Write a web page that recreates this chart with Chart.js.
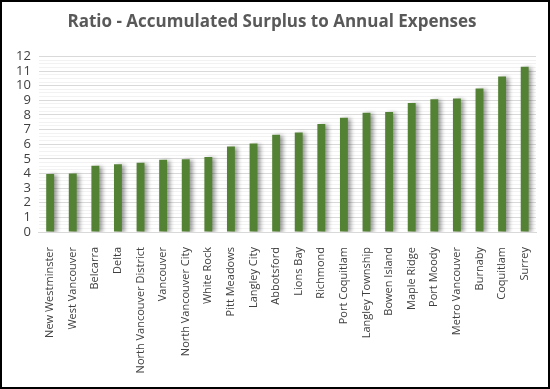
<!DOCTYPE html>
<html lang="en">
<head>
    <meta charset="UTF-8">
    <title>Ratio - Accumulated Surplus to Annual Expenses</title>
    <style>
        html, body { margin: 0; padding: 0; background: #fff; }
        .chart-box {
            width: 550px;
            height: 389px;
            box-sizing: border-box;
            border: 2px solid #000;
            position: relative;
        }
        .chart-box canvas { display: block; }
    </style>
</head>
<body>
    <div class="chart-box">
        <canvas id="ratioChart"></canvas>
    </div>
    <script src="https://cdn.jsdelivr.net/npm/chart.js"></script>
    <script>
        // Du lieu doc tu hinh
        const municipalities = [
            "New Westminster", "West Vancouver", "Belcarra", "Delta",
            "North Vancouver District", "Vancouver", "North Vancouver City",
            "White Rock", "Pitt Meadows", "Langley City", "Abbotsford",
            "Lions Bay", "Richmond", "Port Coquitlam", "Langley Township",
            "Bowen Island", "Maple Ridge", "Port Moody", "Metro Vancouver",
            "Burnaby", "Coquitlam", "Surrey"
        ];
        const ratios = [
            3.97, 4.0, 4.52, 4.63, 4.73, 4.93, 4.98, 5.12, 5.85, 6.05, 6.65,
            6.8, 7.38, 7.8, 8.15, 8.2, 8.82, 9.07, 9.12, 9.8, 10.62, 11.3
        ];
        const yTicks = [0, 1, 2, 3, 4, 5, 6, 7, 8, 9, 10, 11, 12];

        const textColor = "#595959";
        const fontFamily = "'Open Sans', sans-serif";

        // bong do ben phai cot
        const barShadow = {
            id: "barShadow",
            beforeDatasetDraw(chart) {
                const ctx = chart.ctx;
                ctx.save();
                ctx.shadowColor = "rgba(0, 0, 0, 0.4)";
                ctx.shadowBlur = 4;
                ctx.shadowOffsetX = 3;
                ctx.shadowOffsetY = 1;
            },
            afterDatasetDraw(chart) {
                chart.ctx.restore();
            }
        };

        function isWhole(v) {
            return Math.abs(v - Math.round(v)) < 1e-6;
        }

        const ctx = document.getElementById("ratioChart").getContext("2d");
        new Chart(ctx, {
            type: "bar",
            data: {
                labels: municipalities,
                datasets: [{
                    label: "Ratio",
                    data: ratios,
                    backgroundColor: "#548235",
                    barPercentage: 0.7,
                    categoryPercentage: 0.5
                }]
            },
            options: {
                responsive: true,
                maintainAspectRatio: false,
                animation: false,
                layout: { padding: { left: 6, right: 12, top: 6, bottom: 6 } },
                plugins: {
                    legend: { display: false },
                    tooltip: { enabled: false },
                    title: {
                        display: true,
                        text: "Ratio - Accumulated Surplus to Annual Expenses",
                        color: textColor,
                        font: { family: fontFamily, size: 17, weight: "bold" },
                        padding: { top: 4, bottom: 24 }
                    }
                },
                scales: {
                    x: {
                        grid: { display: false },
                        border: { color: "#d9d9d9" },
                        afterFit: (scale) => { scale.height = 149; },
                        ticks: {
                            color: "#404040",
                            padding: 7,
                            font: { family: fontFamily, size: 11 },
                            maxRotation: 90,
                            minRotation: 90,
                            autoSkip: false
                        }
                    },
                    y: {
                        min: yTicks[0],
                        max: yTicks[yTicks.length - 1],
                        border: { display: false },
                        grid: {
                            drawTicks: false,
                            color: (c) => isWhole(c.tick.value) ? "#d9d9d9" : "#f2f2f2"
                        },
                        ticks: {
                            stepSize: 0.25,
                            autoSkip: false,
                            padding: 8,
                            color: "#404040",
                            font: { family: fontFamily, size: 13 },
                            callback: (v) => isWhole(v) && yTicks.includes(Math.round(v)) ? Math.round(v) : ""
                        }
                    }
                }
            },
            plugins: [barShadow]
        });
    </script>
</body>
</html>
